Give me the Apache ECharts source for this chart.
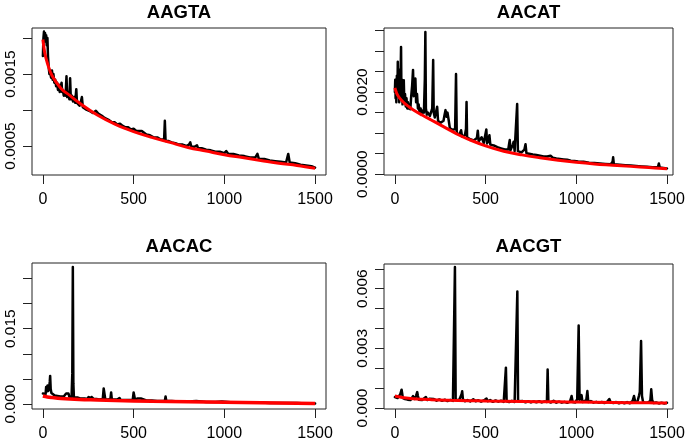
<!DOCTYPE html>
<html><head><meta charset="utf-8">
<script src="https://cdn.jsdelivr.net/npm/echarts@6/dist/echarts.min.js"></script>
<style>html,body{margin:0;padding:0;background:#fff}#c{width:685px;height:444px}</style>
</head><body><div id="c"></div>
<script>
const titles = ['AAGTA', 'AACAT', 'AACAC', 'AACGT'];
const xTicks = [0, 500, 1000, 1500];

const aagtaYTicks = [0.0005, 0.001, 0.0015, 0.002];
const aagtaYLabels = [0.0005, 0.0015];
const aacatYTicks = [0, 0.0005, 0.001, 0.0015, 0.002, 0.0025, 0.003, 0.0035];
const aacatYLabels = [0, 0.002];
const aacacYTicks = [0, 0.005, 0.01, 0.015, 0.02, 0.025];
const aacacYLabels = [0, 0.015];
const aacgtYTicks = [0, 0.001, 0.002, 0.003, 0.004, 0.005, 0.006, 0.007];
const aacgtYLabels = [0, 0.003, 0.006];

const aagtaObs = [[0,0.00175],[3,0.00200],[6,0.00209],[9,0.00195],[12,0.00207],[15,0.00198],[18,0.00204],[21,0.00190],[25,0.00200],[28,0.00175],[32,0.00160],[36,0.00150],[40,0.00153],[45,0.00145],[50,0.00155],[54,0.00142],[58,0.00150],[63,0.00138],[68,0.00142],[73,0.00133],[78,0.00138],[83,0.00128],[88,0.00135],[93,0.00125],[98,0.00132],[103,0.00138],[106,0.00125],[110,0.00128],[115,0.00120],[120,0.00126],[125,0.00120],[130,0.00147],[134,0.00118],[140,0.00125],[146,0.00115],[150,0.00144],[154,0.00115],[160,0.00120],[166,0.00112],[172,0.00118],[178,0.00110],[184,0.00129],[188,0.00110],[195,0.00112],[202,0.00106],[208,0.00110],[215,0.00118],[220,0.00104],[228,0.00104],[236,0.00101],[245,0.00102],[255,0.00099],[265,0.00098],[275,0.00096],[285,0.00097],[292,0.00099],[298,0.00098],[305,0.00095],[315,0.00095],[325,0.00092],[334,0.00094],[340,0.00089],[350,0.00087],[365,0.00086],[380,0.00083],[395,0.00083],[410,0.00080],[425,0.00081],[440,0.00078],[455,0.00076],[470,0.00076],[485,0.00073],[500,0.00074],[515,0.00071],[530,0.00071],[545,0.00071],[555,0.00070],[570,0.00066],[590,0.00065],[610,0.00062],[630,0.00062],[650,0.00059],[668,0.00059],[672,0.00085],[676,0.00057],[690,0.00057],[710,0.00055],[730,0.00054],[750,0.00052],[770,0.00052],[790,0.00050],[805,0.00052],[812,0.00055],[818,0.00049],[835,0.00049],[849,0.00051],[855,0.00047],[875,0.00047],[900,0.00045],[925,0.00044],[950,0.00042],[975,0.00042],[1000,0.00040],[1010,0.00043],[1016,0.00042],[1022,0.00039],[1050,0.00039],[1080,0.00037],[1110,0.00036],[1140,0.00034],[1170,0.00034],[1182,0.00039],[1190,0.00032],[1220,0.00032],[1250,0.00030],[1280,0.00029],[1310,0.00028],[1340,0.00027],[1352,0.00039],[1360,0.00027],[1390,0.00026],[1420,0.00024],[1450,0.00023],[1480,0.00022],[1500,0.00020]];
const aagtaFit = [[0,0.00198],[10,0.00180],[25,0.00165],[50,0.00148],[100,0.00130],[150,0.00120],[200,0.00110],[300,0.00093],[400,0.00080],[500,0.00070],[600,0.00062],[700,0.00055],[800,0.00048],[900,0.00043],[1000,0.00038],[1100,0.00034],[1200,0.00030],[1300,0.00026],[1400,0.00023],[1500,0.00019]];

const aacatObs = [[0,0.00200],[2,0.00230],[4,0.00185],[6,0.00215],[8,0.00175],[11,0.00240],[14,0.00190],[16,0.00274],[18,0.00200],[21,0.00255],[24,0.00175],[27,0.00220],[30,0.00185],[32,0.00250],[34,0.00310],[36,0.00200],[39,0.00230],[42,0.00170],[45,0.00210],[49,0.00229],[52,0.00175],[56,0.00195],[60,0.00165],[64,0.00185],[68,0.00160],[72,0.00175],[76,0.00160],[80,0.00170],[85,0.00158],[90,0.00190],[95,0.00215],[100,0.00254],[104,0.00190],[108,0.00220],[113,0.00233],[117,0.00175],[122,0.00195],[127,0.00160],[131,0.00170],[136,0.00150],[142,0.00160],[148,0.00148],[154,0.00155],[160,0.00150],[165,0.00230],[168,0.00346],[171,0.00160],[176,0.00145],[182,0.00150],[187,0.00148],[193,0.00142],[200,0.00145],[206,0.00160],[211,0.00278],[214,0.00150],[220,0.00138],[226,0.00150],[233,0.00164],[238,0.00130],[245,0.00128],[252,0.00125],[260,0.00122],[268,0.00130],[274,0.00145],[279,0.00156],[284,0.00140],[290,0.00150],[297,0.00130],[303,0.00112],[310,0.00110],[318,0.00108],[326,0.00105],[332,0.00110],[337,0.00244],[341,0.00100],[348,0.00098],[355,0.00096],[360,0.00100],[365,0.00107],[370,0.00092],[378,0.00091],[386,0.00095],[392,0.00110],[395,0.00176],[398,0.00090],[405,0.00087],[415,0.00085],[425,0.00083],[435,0.00082],[445,0.00080],[452,0.00088],[457,0.00106],[462,0.00080],[470,0.00082],[478,0.00090],[483,0.00086],[490,0.00076],[498,0.00080],[504,0.00109],[508,0.00075],[515,0.00080],[521,0.00095],[526,0.00072],[535,0.00072],[545,0.00070],[555,0.00068],[565,0.00066],[575,0.00065],[585,0.00063],[595,0.00062],[605,0.00060],[615,0.00059],[625,0.00060],[630,0.00075],[633,0.00083],[637,0.00058],[645,0.00060],[650,0.00072],[655,0.00079],[660,0.00056],[668,0.00058],[674,0.00171],[678,0.00056],[688,0.00054],[698,0.00053],[708,0.00052],[714,0.00060],[720,0.00073],[725,0.00051],[740,0.00050],[760,0.00048],[780,0.00047],[800,0.00045],[820,0.00043],[840,0.00043],[849,0.00047],[858,0.00045],[870,0.00040],[890,0.00038],[910,0.00037],[930,0.00036],[950,0.00035],[970,0.00033],[990,0.00032],[1010,0.00031],[1040,0.00030],[1070,0.00028],[1100,0.00027],[1130,0.00026],[1160,0.00025],[1190,0.00024],[1200,0.00030],[1203,0.00041],[1207,0.00024],[1240,0.00023],[1270,0.00022],[1300,0.00021],[1330,0.00020],[1360,0.00019],[1390,0.00018],[1420,0.00017],[1450,0.00017],[1455,0.00026],[1460,0.00016],[1480,0.00015],[1500,0.00014]];
const aacatFit = [[0,0.00210],[10,0.00197],[25,0.00186],[50,0.00174],[75,0.00165],[100,0.00157],[150,0.00144],[200,0.00132],[250,0.00120],[300,0.00108],[350,0.00096],[400,0.00086],[500,0.00069],[600,0.00056],[700,0.00047],[800,0.00040],[900,0.00034],[1000,0.00029],[1100,0.00025],[1200,0.00022],[1300,0.00019],[1400,0.00016],[1500,0.00013]];

const aacacObs = [[0,0.0021],[5,0.0018],[10,0.0024],[15,0.0020],[18,0.0034],[22,0.0025],[26,0.0037],[30,0.0026],[34,0.0030],[38,0.0045],[40,0.0056],[43,0.0030],[47,0.0022],[52,0.0019],[58,0.0020],[65,0.0017],[72,0.0018],[80,0.0016],[88,0.0017],[96,0.0015],[105,0.0016],[115,0.0015],[124,0.0017],[128,0.0021],[134,0.0020],[141,0.0021],[146,0.0014],[152,0.0013],[158,0.0014],[162,0.0060],[165,0.0273],[168,0.0040],[171,0.0013],[180,0.0012],[190,0.0013],[196,0.0012],[205,0.0011],[215,0.0011],[230,0.0011],[245,0.0010],[252,0.0014],[257,0.0013],[262,0.0010],[268,0.0014],[275,0.0015],[280,0.0010],[295,0.0010],[310,0.0009],[330,0.0010],[335,0.0031],[340,0.0030],[344,0.0009],[360,0.0009],[372,0.0010],[376,0.0023],[380,0.0009],[395,0.0009],[410,0.0009],[417,0.0011],[422,0.0012],[428,0.0008],[450,0.0008],[475,0.0008],[495,0.0008],[500,0.0023],[504,0.0021],[508,0.0008],[520,0.0011],[527,0.0008],[540,0.0011],[545,0.0008],[570,0.0007],[600,0.0007],[630,0.0006],[655,0.0006],[672,0.0006],[676,0.0015],[680,0.0006],[710,0.0006],[750,0.0005],[800,0.0005],[845,0.0006],[850,0.0005],[900,0.0004],[950,0.0004],[986,0.0005],[992,0.0004],[1050,0.0003],[1100,0.0003],[1150,0.0003],[1200,0.0003],[1250,0.0002],[1300,0.0002],[1350,0.0002],[1400,0.0002],[1450,0.0001],[1500,0.0001]];
const aacacFit = [[0,0.0016],[25,0.0014],[50,0.00128],[100,0.0011],[200,0.0009],[300,0.0008],[400,0.0007],[600,0.00055],[800,0.00045],[1000,0.00035],[1200,0.00025],[1500,0.00012]];

const aacgtObs = [[0,0.00055],[5,0.00045],[10,0.00065],[15,0.00050],[20,0.00060],[25,0.00048],[30,0.00070],[34,0.00080],[37,0.00092],[40,0.00075],[44,0.00050],[50,0.00060],[56,0.00045],[62,0.00055],[70,0.00042],[78,0.00050],[86,0.00040],[95,0.00048],[100,0.00060],[105,0.00065],[110,0.00045],[116,0.00060],[120,0.00070],[123,0.00080],[127,0.00060],[132,0.00042],[140,0.00050],[150,0.00040],[160,0.00048],[171,0.00055],[178,0.00040],[190,0.00046],[200,0.00038],[215,0.00045],[230,0.00037],[245,0.00043],[260,0.00036],[275,0.00042],[290,0.00035],[305,0.00041],[320,0.00036],[327,0.00040],[331,0.00709],[335,0.00040],[345,0.00036],[355,0.00042],[363,0.00040],[368,0.00070],[371,0.00084],[375,0.00045],[385,0.00034],[400,0.00040],[415,0.00033],[432,0.00044],[445,0.00034],[460,0.00039],[475,0.00032],[490,0.00038],[505,0.00048],[512,0.00034],[525,0.00040],[540,0.00031],[555,0.00038],[570,0.00032],[585,0.00037],[600,0.00031],[608,0.00036],[612,0.00203],[616,0.00034],[630,0.00030],[645,0.00036],[660,0.00030],[671,0.00035],[675,0.00586],[679,0.00034],[690,0.00029],[705,0.00035],[720,0.00029],[735,0.00034],[750,0.00028],[765,0.00033],[780,0.00029],[795,0.00034],[810,0.00028],[825,0.00033],[838,0.00030],[842,0.00194],[846,0.00032],[860,0.00028],[875,0.00036],[890,0.00027],[905,0.00032],[920,0.00027],[935,0.00031],[950,0.00026],[965,0.00032],[974,0.00060],[980,0.00030],[995,0.00028],[1005,0.00045],[1013,0.00415],[1018,0.00040],[1024,0.00050],[1029,0.00065],[1034,0.00030],[1045,0.00028],[1055,0.00040],[1061,0.00085],[1066,0.00030],[1080,0.00035],[1095,0.00027],[1110,0.00031],[1125,0.00026],[1140,0.00030],[1155,0.00025],[1170,0.00031],[1182,0.00045],[1190,0.00028],[1205,0.00025],[1220,0.00030],[1235,0.00024],[1250,0.00029],[1265,0.00024],[1280,0.00030],[1295,0.00024],[1310,0.00035],[1318,0.00060],[1325,0.00030],[1338,0.00035],[1345,0.00060],[1350,0.00080],[1357,0.00337],[1362,0.00060],[1368,0.00030],[1380,0.00026],[1395,0.00028],[1408,0.00035],[1413,0.00094],[1418,0.00040],[1425,0.00025],[1440,0.00028],[1455,0.00023],[1470,0.00027],[1485,0.00023],[1500,0.00026]];
const aacgtFit = [[0,0.00060],[50,0.00052],[100,0.00047],[200,0.00042],[300,0.00039],[400,0.00037],[500,0.00035],[700,0.00033],[900,0.00031],[1000,0.00030],[1200,0.00028],[1400,0.00026],[1500,0.00025]];

const FONT = 'Liberation Sans, Arial, Helvetica, sans-serif';
const panels = [
  {grid:{left:32,top:28,width:294,height:147}, xmin:-60, xmax:1560, ymin:0.0000972, ymax:0.00214, yt:aagtaYTicks, yl:aagtaYLabels, dec:4, obs:aagtaObs, fit:aagtaFit, tx:179, ty:3, rw:3},
  {grid:{left:384,top:28,width:289,height:147}, xmin:-60, xmax:1533, ymin:-0.00002, ymax:0.00356, yt:aacatYTicks, yl:aacatYLabels, dec:4, obs:aacatObs, fit:aacatFit, tx:528.5, ty:3, rw:3},
  {grid:{left:32,top:263,width:294,height:146}, xmin:-60, xmax:1560, ymin:-0.001, ymax:0.0281, yt:aacacYTicks, yl:aacacYLabels, dec:3, obs:aacacObs, fit:aacacFit, tx:179, ty:237.5, rw:3.5},
  {grid:{left:384,top:264,width:289,height:145}, xmin:-60, xmax:1533, ymin:-0.00005, ymax:0.00724, yt:aacgtYTicks, yl:aacgtYLabels, dec:3, obs:aacgtObs, fit:aacgtFit, tx:528.5, ty:237.5, rw:3}
];

const option = {
  animation: false,
  backgroundColor: '#fff',
  title: [], grid: [], xAxis: [], yAxis: [], series: []
};
panels.forEach((p, i) => {
  option.title.push({text: titles[i], left: p.tx, top: p.ty, textAlign: 'center', padding: 0,
    textStyle: {fontFamily: FONT, fontWeight: 'bold', fontSize: 18.5, color: '#000'}});
  option.grid.push(Object.assign({show: true, borderColor: '#222', borderWidth: 1, backgroundColor: 'transparent', outerBoundsMode: 'none', containLabel: false}, p.grid));
  option.xAxis.push({type: 'value', gridIndex: i, min: p.xmin, max: p.xmax,
    axisLine: {show: false, onZero: false}, splitLine: {show: false},
    axisTick: {show: true, length: 9, customValues: xTicks, lineStyle: {color: '#222', width: 1}},
    axisLabel: {customValues: xTicks, margin: 17, fontSize: 16, fontFamily: FONT, color: '#000', formatter: v => String(v)}});
  option.yAxis.push({type: 'value', gridIndex: i, min: p.ymin, max: p.ymax,
    axisLine: {show: false, onZero: false}, splitLine: {show: false},
    axisTick: {show: true, length: 9, customValues: p.yt, lineStyle: {color: '#222', width: 1}},
    axisLabel: {customValues: p.yl, rotate: 90, margin: 13, fontSize: 15.5, fontFamily: FONT, color: '#000', formatter: v => Number(v).toFixed(p.dec)}});
  option.series.push({type: 'line', xAxisIndex: i, yAxisIndex: i, data: p.obs, showSymbol: false, symbol: 'none',
    lineStyle: {color: '#000', width: 2.5, join: 'round', cap: 'round'}, z: 2});
  option.series.push({type: 'line', xAxisIndex: i, yAxisIndex: i, data: p.fit, showSymbol: false, symbol: 'none', smooth: 0.4,
    lineStyle: {color: '#ff0000', width: p.rw}, z: 3});
});
const chart = echarts.init(document.getElementById('c'), null, {renderer: 'canvas'});
chart.setOption(option);
</script></body></html>
